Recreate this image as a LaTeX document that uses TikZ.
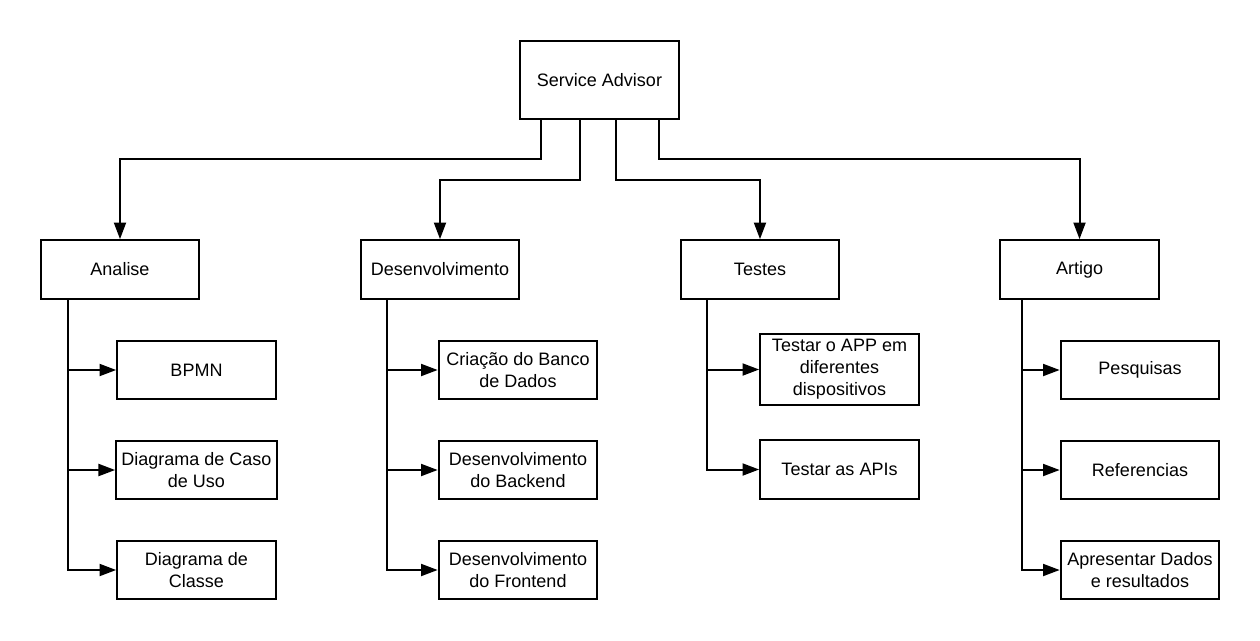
\documentclass[tikz,border=0pt]{standalone}
\usepackage{fontspec}
\setmainfont{Liberation Sans}
\usepackage{tikz}
\usetikzlibrary{positioning, arrows.meta}

\begin{document}
\begin{tikzpicture}
		[x=0.75pt, y=-0.75pt,
		 box/.style={draw, line width=1.5pt, minimum width=119pt, minimum height=44pt, inner sep=4pt, align=center, font=\fontsize{13.5}{16.5}\selectfont},
		 arr/.style={-{Triangle[length=12.5pt, width=9pt]}, line width=1.5pt}]
	
		\useasboundingbox (0,0) rectangle (1260,640);
	
		% nodes %
		\node[box, minimum height=59pt] (sa) at (599.5,80) {Service Advisor};
		
		\node[box] (an) at (120,269.5) {Analise};
		\node[box] (de) at (440,269.5) {Desenvolvimento};
		\node[box] (te) at (760,269.5) {Testes};
		\node[box] (ar) at (1079.5,269.5) {Artigo};
		
		\node[box] (an1) at (196.5,370) {BPMN};
		\node[box] (an2) at (196.5,470) {Diagrama de Caso\\de Uso};
		\node[box] (an3) at (196.5,570) {Diagrama de\\Classe};
		
		\node[box] (de1) at (518,370) {Criação do Banco\\de Dados};
		\node[box] (de2) at (518,470) {Desenvolvimento\\do Backend};
		\node[box] (de3) at (518,570) {Desenvolvimento\\do Frontend};
		
		\node[box] (te1) at (839.5,369.5) {Testar o APP em\\diferentes\\dispositivos};
		\node[box] (te2) at (839.5,469.5) {Testar as APIs};
		
		\node[box] (ar1) at (1140,370) {Pesquisas};
		\node[box] (ar2) at (1140,470) {Referencias};
		\node[box] (ar3) at (1140,570) {Apresentar Dados\\e resultados};
	
		% edges %
		\draw[arr] ([xshift=-44pt]sa.south) -- ++(0,39) -| (an);
		\draw[arr] ([xshift=-15pt]sa.south) -- ++(0,60) -| (de);
		\draw[arr] ([xshift=12.5pt]sa.south) -- ++(0,60) -| (te);
		\draw[arr] ([xshift=44.5pt]sa.south) -- ++(0,39) -| (ar);
		
		\draw[arr] ([xshift=-39pt]an.south) |- (an1);
		\draw[arr] ([xshift=-39pt]an.south) |- (an2);
		\draw[arr] ([xshift=-39pt]an.south) |- (an3);
		
		\draw[arr] ([xshift=-40pt]de.south) |- (de1);
		\draw[arr] ([xshift=-40pt]de.south) |- (de2);
		\draw[arr] ([xshift=-40pt]de.south) |- (de3);
		
		\draw[arr] ([xshift=-39.5pt]te.south) |- (te1);
		\draw[arr] ([xshift=-39.5pt]te.south) |- (te2);
		
		\draw[arr] ([xshift=-43pt]ar.south) |- (ar1);
		\draw[arr] ([xshift=-43pt]ar.south) |- (ar2);
		\draw[arr] ([xshift=-43pt]ar.south) |- (ar3);
	
	\end{tikzpicture}
\end{document}
